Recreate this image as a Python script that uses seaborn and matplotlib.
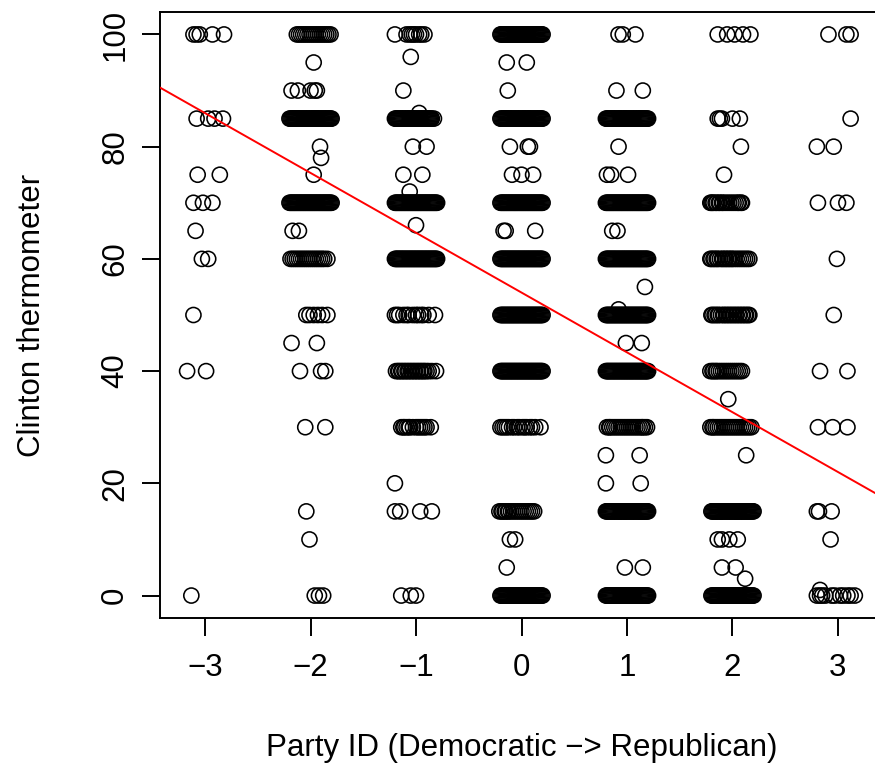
import numpy as np
import pandas as pd
import matplotlib
matplotlib.use("Agg")
import matplotlib.pyplot as plt
import seaborn as sns

# ---------------- data ----------------
party_ids = [-3, -2, -1, 0, 1, 2, 3]

# a fully packed band of jittered points (horizontal offsets from the party id)
dense_full = [-0.20, -0.19, -0.18, -0.17, -0.16, -0.15, -0.14, -0.13, -0.12, -0.11, -0.10,
              -0.09, -0.08, -0.07, -0.06, -0.05, -0.04, -0.03, -0.02, -0.01, 0.00,
              0.01, 0.02, 0.03, 0.04, 0.05, 0.06, 0.07, 0.08, 0.09, 0.10,
              0.11, 0.12, 0.13, 0.14, 0.15, 0.16, 0.17, 0.18, 0.19, 0.20]

therm_m3 = [100, 85, 75, 70, 65, 60, 50, 40, 0]
jitter_m3 = [[-0.11, -0.08, -0.05, 0.07, 0.18], [-0.08, 0.03, 0.09, 0.17], [-0.07, 0.14],
             [-0.11, -0.02, 0.07], [-0.09], [-0.03, 0.03], [-0.11], [-0.17, 0.01], [-0.13]]

therm_m2 = [100, 95, 90, 85, 80, 78, 75, 70, 65, 60, 50, 45, 40, 30, 15, 10, 0]
jitter_m2 = [[-0.13, -0.11, -0.09, -0.07, -0.05, -0.03, -0.01, 0.01, 0.03, 0.05, 0.07, 0.09,
              0.11, 0.13, 0.15, 0.17, 0.19],
             [0.03], [-0.18, -0.12, 0.00, 0.04, 0.06], dense_full, [0.09], [0.10], [0.03],
             dense_full, [-0.17, -0.11],
             [-0.19, -0.17, -0.15, -0.13, -0.11, -0.09, -0.07, -0.05, -0.03, -0.01, 0.01,
              0.03, 0.05, 0.07, 0.09, 0.11, 0.13, 0.16],
             [-0.04, -0.01, 0.03, 0.07, 0.11, 0.16], [-0.18, 0.06], [-0.10, 0.10, 0.14],
             [-0.05, 0.14], [-0.04], [-0.01], [0.04, 0.08, 0.12]]

therm_m1 = [100, 96, 90, 86, 85, 80, 75, 72, 70, 66, 60, 50, 40, 30, 20, 15, 0]
jitter_m1 = [[-0.20, -0.09, -0.06, -0.04, -0.02, 0.00, 0.03, 0.05, 0.08], [-0.05], [-0.12], [0.03],
             [-0.20, -0.19, -0.18, -0.17, -0.16, -0.15, -0.14, -0.13, -0.12, -0.11, -0.10,
              -0.09, -0.08, -0.07, -0.06, -0.05, -0.04, -0.03, -0.02, -0.01, 0.00,
              0.01, 0.02, 0.03, 0.04, 0.05, 0.06, 0.07, 0.08, 0.09, 0.10,
              0.11, 0.12, 0.13, 0.14, 0.15, 0.17],
             [-0.03, 0.10], [-0.12, 0.06], [-0.06], dense_full, [0.00], dense_full,
             [-0.20, -0.18, -0.16, -0.12, -0.09, -0.07, -0.03, 0.00, 0.02, 0.05, 0.07, 0.12, 0.18],
             [-0.19, -0.17, -0.16, -0.14, -0.13, -0.11, -0.10, -0.08, -0.07, -0.05, -0.04,
              -0.02, -0.01, 0.01, 0.02, 0.04, 0.05, 0.07, 0.08, 0.10, 0.12, 0.15, 0.19],
             [-0.14, -0.12, -0.11, -0.09, -0.07, -0.06, -0.03, 0.00, 0.02, 0.04, 0.06, 0.08,
              0.10, 0.14],
             [-0.20], [-0.20, -0.15, 0.04, 0.15], [-0.14, -0.05, 0.00]]

therm_0 = [100, 95, 90, 85, 80, 75, 70, 65, 60, 50, 40, 30, 15, 10, 5, 0]
jitter_0 = [dense_full, [-0.14, 0.05], [-0.13], dense_full, [-0.11, 0.06, 0.08],
            [-0.09, 0.00, 0.11], dense_full, [-0.17, -0.15, 0.13], dense_full, dense_full,
            dense_full,
            [-0.20, -0.18, -0.16, -0.14, -0.12, -0.09, -0.07, -0.04, -0.02, 0.01, 0.03,
             0.05, 0.08, 0.10, 0.13, 0.18],
            [-0.21, -0.19, -0.18, -0.16, -0.15, -0.13, -0.12, -0.10, -0.08, -0.06, -0.04,
             -0.02, 0.00, 0.02, 0.04, 0.06, 0.08, 0.10, 0.12],
            [-0.11, -0.06], [-0.14], dense_full]

therm_p1 = [100, 90, 85, 80, 75, 70, 65, 60, 55, 51, 50, 45, 40, 30, 25, 20, 15, 5, 0]
jitter_p1 = [[-0.08, -0.04, 0.08], [-0.10, 0.15], dense_full, [-0.08], [-0.19, -0.15, 0.01],
             dense_full, [-0.14, -0.09], dense_full, [0.17], [-0.08], dense_full,
             [-0.01, 0.14], dense_full,
             [-0.19, -0.17, -0.16, -0.14, -0.12, -0.10, -0.08, -0.06, -0.04, -0.02, 0.00,
              0.02, 0.04, 0.06, 0.08, 0.10, 0.12, 0.14, 0.15, 0.17, 0.19],
             [-0.20, 0.12], [-0.20, 0.13], dense_full, [-0.02, 0.15], dense_full]

therm_p2 = [100, 85, 80, 75, 70, 60, 50, 40, 35, 30, 25, 15, 10, 5, 3, 0]
jitter_p2 = [[-0.14, -0.05, 0.02, 0.10, 0.17], [-0.14, -0.12, -0.10, 0.00, 0.07], [0.08], [-0.08],
             [-0.21, -0.20, -0.19, -0.18, -0.16, -0.15, -0.13, -0.12, -0.10, -0.09, -0.07,
              -0.05, -0.03, -0.01, 0.01, 0.03, 0.05, 0.06, 0.08, 0.09],
             [-0.21, -0.20, -0.18, -0.17, -0.15, -0.14, -0.12, -0.10, -0.09, -0.07, -0.06,
              -0.04, -0.03, -0.01, 0.00, 0.02, 0.04, 0.06, 0.08, 0.10, 0.12, 0.14, 0.16],
             [-0.20, -0.19, -0.17, -0.16, -0.14, -0.13, -0.11, -0.09, -0.08, -0.06, -0.05,
              -0.03, -0.02, 0.00, 0.01, 0.03, 0.04, 0.06, 0.07, 0.09, 0.10, 0.12, 0.13,
              0.15, 0.16],
             [-0.21, -0.19, -0.18, -0.16, -0.15, -0.13, -0.11, -0.09, -0.07, -0.05, -0.03,
              -0.01, 0.01, 0.03, 0.05, 0.07, 0.09],
             [-0.04],
             [-0.21, -0.19, -0.18, -0.16, -0.14, -0.12, -0.10, -0.08, -0.06, -0.04, -0.02,
              0.00, 0.02, 0.04, 0.06, 0.08, 0.10, 0.12, 0.14, 0.16, 0.18],
             [0.13], dense_full, [-0.14, -0.10, -0.03, 0.05], [-0.10, 0.03], [0.12], dense_full]

therm_p3 = [100, 85, 80, 70, 60, 50, 40, 30, 15, 10, 1, 0]
jitter_p3 = [[-0.09, 0.08, 0.12], [0.12], [-0.20, -0.04], [-0.19, 0.00, 0.08], [-0.01],
             [-0.04], [-0.17, 0.09], [-0.19, -0.05, 0.09], [-0.20, -0.18, -0.06], [-0.07],
             [-0.17], [-0.20, -0.17, -0.15, -0.12, -0.06, -0.03, 0.02, 0.05, 0.09, 0.12, 0.16]]

therm_by_party = [therm_m3, therm_m2, therm_m1, therm_0, therm_p1, therm_p2, therm_p3]
jitter_by_party = [jitter_m3, jitter_m2, jitter_m1, jitter_0, jitter_p1, jitter_p2, jitter_p3]

# fitted regression line (Clinton thermometer ~ party id)
fit_intercept = 54.0
fit_slope = -10.66

x_ticks = [-3, -2, -1, 0, 1, 2, 3]
y_ticks = [0, 20, 40, 60, 80, 100]
x_label = "Party ID (Democratic \u2212> Republican)"
y_label = "Clinton thermometer"

# ---------------- build the table ----------------
rows = []
for pid, therms, jits in zip(party_ids, therm_by_party, jitter_by_party):
    for t, offs in zip(therms, jits):
        for o in offs:
            rows.append({"party": pid + o, "therm": t})
df = pd.DataFrame(rows)

# ---------------- draw ----------------
sns.set_theme(style="white")
plt.rcParams["font.family"] = ["Liberation Sans", "DejaVu Sans"]

W, H = 875, 772
fig = plt.figure(figsize=(W / 100, H / 100), dpi=100)
left, right, top, bottom = 160, 883, 12, 618
ax = fig.add_axes([left / W, (H - bottom) / H, (right - left) / W, (bottom - top) / H])

sns.scatterplot(data=df, x="party", y="therm", ax=ax, marker="o", s=118,
                facecolors="none", edgecolor="black", linewidth=1.15, legend=False)
ax.axline((0, fit_intercept), slope=fit_slope, color="#ff0000", lw=1.4, zorder=3)

ax.set_xlim(-3.427, 3.427)
ax.set_ylim(-4, 104)
ax.set_xticks(x_ticks)
ax.set_yticks(y_ticks)
ax.set_xticklabels([f"{v}".replace("-", "\u2212") for v in x_ticks])
ax.set_yticklabels([str(v) for v in y_ticks], rotation=90, va="center")

for sp in ax.spines.values():
    sp.set_visible(True)
    sp.set_color("black")
    sp.set_linewidth(1.4)

ax.tick_params(axis="both", which="major", direction="out", length=13, width=1.4,
               color="black", labelsize=22.5, labelcolor="black", left=True, bottom=True)
ax.tick_params(axis="x", pad=12)
ax.tick_params(axis="y", pad=8.5)

ax.set_xlabel(x_label, fontsize=22.5, labelpad=36, color="black")
ax.set_ylabel(y_label, fontsize=22.5, labelpad=38, color="black")
ax.grid(False)

fig.savefig("out.png", dpi=100)
